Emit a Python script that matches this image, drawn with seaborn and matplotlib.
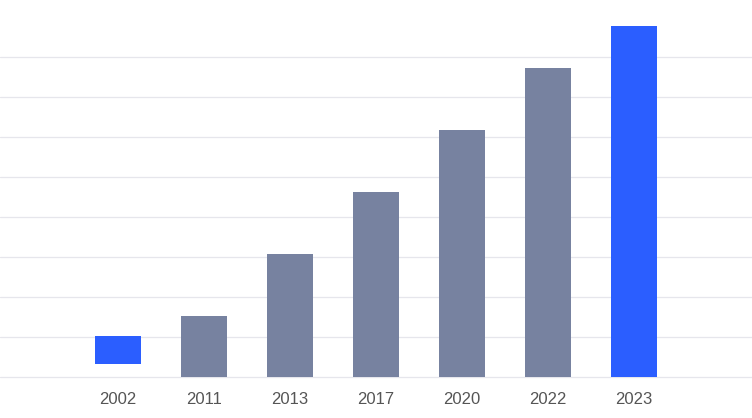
import matplotlib
matplotlib.use("Agg")
import matplotlib.pyplot as plt
import seaborn as sns
import pandas as pd

years = ["2002", "2011", "2013", "2017", "2020", "2022", "2023"]
tops = [20.6, 30.6, 61.6, 92.6, 123.6, 154.6, 175.6]
bottoms = [6.8, 0, 0, 0, 0, 0, 0]
highlight = [True, False, False, False, False, False, True]

BLUE = "#2B5EFF"
GREY = "#7782A0"

sns.set_theme(style="white")
plt.rcParams["font.family"] = ["Liberation Sans", "DejaVu Sans"]

df = pd.DataFrame({"year": years, "height": [t - b for t, b in zip(tops, bottoms)]})

fig = plt.figure(figsize=(7.52, 4.18), dpi=100)
# small margin below zero so the baseline gridline is not clipped
ax = fig.add_axes([0, (418 - 379.3) / 418, 1, 379.3 / 418])

sns.barplot(data=df, x="year", y="height", order=years, color=GREY,
            bottom=bottoms, width=0.535, saturation=1, ax=ax, linewidth=0)
for p, h in zip(ax.patches, highlight):
    p.set_facecolor(BLUE if h else GREY)

ax.set_xlim(-1.37, 7.37)
ax.set_ylim(-1.0, 188.65)
ax.set_yticks(range(0, 161, 20))
ax.yaxis.grid(True, color="#E6E6EC", linewidth=0.9)
ax.set_axisbelow(True)
ax.tick_params(axis="y", left=False, labelleft=False)
ax.tick_params(axis="x", length=0, pad=9, labelsize=12, labelcolor="#555555")
ax.set_xlabel("")
ax.set_ylabel("")
for s in ax.spines.values():
    s.set_visible(False)

fig.savefig("out.png", dpi=100)
